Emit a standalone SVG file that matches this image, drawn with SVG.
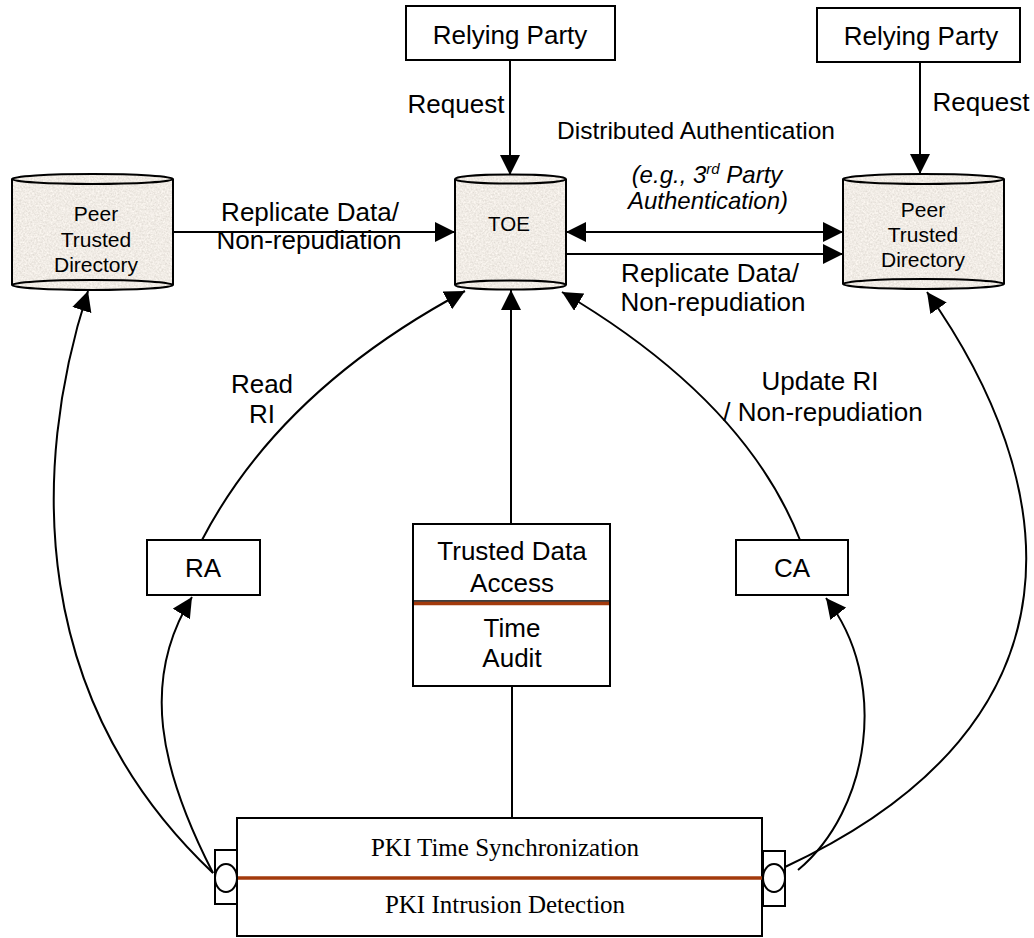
<svg xmlns="http://www.w3.org/2000/svg" width="1034" height="938" viewBox="0 0 1034 938">
  <style>
    .box { fill: #ffffff; stroke: #000000; stroke-width: 2; }
    .edge { fill: none; stroke: #000000; stroke-width: 2; }
    .cyl { fill: none; stroke: #000000; stroke-width: 2; }
    .lbl { font-family: "Liberation Sans", Arial, sans-serif; font-size: 26px; fill: #000000; text-anchor: middle; }
    .small { font-size: 21px; }
    .ital { font-style: italic; font-size: 24px; }
    .serif { font-family: "Liberation Serif", "Times New Roman", serif; font-size: 25px; fill: #000000; text-anchor: middle; }
    .rust { stroke: #a33a0c; stroke-width: 3.5; fill: none; }
  </style>
  <defs>
    <!-- speckled stone fill used inside the directory cylinders -->
    <filter id="stone" x="0" y="0" width="1" height="1">
      <feTurbulence type="fractalNoise" baseFrequency="0.55" numOctaves="3" seed="7" result="noise"/>
      <feColorMatrix in="noise" type="matrix"
        values="0.35 0 0 0 0.70
                0.35 0 0 0 0.66
                0.35 0 0 0 0.61
                0 0 0 0 1" result="tint"/>
      <feComposite in="tint" in2="SourceGraphic" operator="in"/>
    </filter>
    <marker id="arrow" viewBox="0 0 20 20" refX="20" refY="10" markerWidth="20" markerHeight="20" markerUnits="userSpaceOnUse" orient="auto-start-reverse">
      <path d="M0 0 L20 10 L0 20 Z" fill="#000000"/>
    </marker>
  </defs>

  <rect width="1034" height="938" fill="#ffffff"/>

  <!-- connectors -->
  <g id="connectors">
    <!-- requests from relying parties -->
    <line class="edge" x1="510" y1="60" x2="510" y2="175" marker-end="url(#arrow)"/>
    <line class="edge" x1="920" y1="62" x2="920" y2="174" marker-end="url(#arrow)"/>
    <!-- replication into the TOE -->
    <line class="edge" x1="173" y1="232" x2="455" y2="232" marker-end="url(#arrow)"/>
    <!-- distributed authentication (both ways) -->
    <line class="edge" x1="566" y1="232" x2="843" y2="232" marker-start="url(#arrow)" marker-end="url(#arrow)"/>
    <!-- replication out of the TOE -->
    <line class="edge" x1="566" y1="254" x2="843" y2="254" marker-end="url(#arrow)"/>
    <!-- RA reads RI -->
    <path class="edge" d="M202 540 Q280 390 465 291" marker-end="url(#arrow)"/>
    <!-- CA updates RI -->
    <path class="edge" d="M800 540 Q745 400 562 292" marker-end="url(#arrow)"/>
    <!-- trusted data access to TOE -->
    <line class="edge" x1="511" y1="524" x2="511" y2="290" marker-end="url(#arrow)"/>
    <!-- trusted data access to PKI services -->
    <line class="edge" x1="512" y1="686" x2="512" y2="818"/>
    <!-- left port fan-out -->
    <path class="edge" d="M213 873 C30 700 30 470 88 291" marker-end="url(#arrow)"/>
    <path class="edge" d="M213 873 C160 770 140 680 192 597" marker-end="url(#arrow)"/>
    <!-- right port fan-out -->
    <path class="edge" d="M785 867 C1100 720 1060 480 927 292" marker-end="url(#arrow)"/>
    <path class="edge" d="M798 870 C870 810 890 680 826 598" marker-end="url(#arrow)"/>
  </g>

  <!-- relying parties -->
  <g id="relying-party-1">
    <rect class="box" x="406" y="6" width="209" height="54"/>
    <text class="lbl" x="510" y="44">Relying Party</text>
  </g>
  <g id="relying-party-2">
    <rect class="box" x="817" y="8" width="203" height="54"/>
    <text class="lbl" x="921" y="45">Relying Party</text>
  </g>

  <!-- directory cylinders -->
  <g id="peer-directory-left">
    <path d="M12 179 A80.5 5 0 0 1 173 179 L173 285 A80.5 5 0 0 1 12 285 Z" fill="#ddd5c9" filter="url(#stone)"/>
    <path class="cyl" d="M12 179 L12 285 M173 179 L173 285"/>
    <ellipse class="cyl" cx="92.5" cy="179" rx="80.5" ry="5"/>
    <ellipse class="cyl" cx="92.5" cy="285" rx="80.5" ry="5"/>
    <text class="lbl small" x="96" y="221">Peer</text>
    <text class="lbl small" x="96" y="247">Trusted</text>
    <text class="lbl small" x="96" y="272">Directory</text>
  </g>
  <g id="toe">
    <path d="M455 179 A55.5 5 0 0 1 566 179 L566 285 A55.5 5 0 0 1 455 285 Z" fill="#ddd5c9" filter="url(#stone)"/>
    <path class="cyl" d="M455 179 L455 285 M566 179 L566 285"/>
    <ellipse class="cyl" cx="510.5" cy="179" rx="55.5" ry="4.5"/>
    <ellipse class="cyl" cx="510.5" cy="285" rx="55.5" ry="4.5"/>
    <text class="lbl" x="509" y="231" style="font-size:20.5px">TOE</text>
  </g>
  <g id="peer-directory-right">
    <path d="M843 179 A80.5 5 0 0 1 1004 179 L1004 284 A80.5 5 0 0 1 843 284 Z" fill="#ddd5c9" filter="url(#stone)"/>
    <path class="cyl" d="M843 179 L843 284 M1004 179 L1004 284"/>
    <ellipse class="cyl" cx="923.5" cy="179" rx="80.5" ry="5"/>
    <ellipse class="cyl" cx="923.5" cy="284" rx="80.5" ry="5"/>
    <text class="lbl small" x="923" y="217">Peer</text>
    <text class="lbl small" x="923" y="242">Trusted</text>
    <text class="lbl small" x="923" y="267">Directory</text>
  </g>

  <!-- registration and certification authorities -->
  <g id="ra">
    <rect class="box" x="147" y="540" width="113" height="55"/>
    <text class="lbl" x="203" y="577">RA</text>
  </g>
  <g id="ca">
    <rect class="box" x="736" y="540" width="112" height="55"/>
    <text class="lbl" x="792" y="577">CA</text>
  </g>

  <!-- trusted data access / time audit -->
  <g id="trusted-data-access">
    <rect class="box" x="413" y="524" width="197" height="162"/>
    <line x1="413" y1="601" x2="610" y2="601" stroke="#000000" stroke-width="1.5"/>
    <line class="rust" x1="414" y1="603.5" x2="609" y2="603.5"/>
    <text class="lbl" x="512" y="560">Trusted Data</text>
    <text class="lbl" x="512" y="592">Access</text>
    <text class="lbl" x="512" y="637">Time</text>
    <text class="lbl" x="512" y="667">Audit</text>
  </g>

  <!-- PKI services with ports -->
  <g id="pki-services">
    <rect class="box" x="237" y="818" width="525" height="118"/>
    <line class="rust" x1="237" y1="878" x2="762" y2="878"/>
    <text class="serif" x="505" y="856">PKI Time Synchronization</text>
    <text class="serif" x="505" y="913">PKI Intrusion Detection</text>
  </g>
  <g id="port-left">
    <rect class="box" x="215" y="850" width="22" height="54"/>
    <ellipse class="box" cx="226" cy="878" rx="11" ry="14"/>
  </g>
  <g id="port-right">
    <rect class="box" x="763" y="851" width="22" height="55"/>
    <ellipse class="box" cx="774" cy="878" rx="11" ry="14"/>
  </g>

  <!-- connector labels -->
  <g id="labels">
    <text class="lbl" x="456" y="113">Request</text>
    <text class="lbl" x="981" y="111">Request</text>
    <text class="lbl" x="696" y="139" style="font-size:24.5px">Distributed Authentication</text>
    <text class="lbl ital" x="707" y="183">(e.g., 3<tspan dy="-9" style="font-size:15px">rd</tspan><tspan dy="9"> Party</tspan></text>
    <text class="lbl ital" x="708" y="209">Authentication)</text>
    <text class="lbl" x="310" y="221">Replicate Data/</text>
    <text class="lbl" x="309" y="249">Non-repudiation</text>
    <text class="lbl" x="710" y="282">Replicate Data/</text>
    <text class="lbl" x="713" y="311">Non-repudiation</text>
    <text class="lbl" x="262" y="393">Read</text>
    <text class="lbl" x="262" y="423">RI</text>
    <text class="lbl" x="820" y="390">Update RI</text>
    <text class="lbl" x="823" y="421">/ Non-repudiation</text>
  </g>
</svg>
